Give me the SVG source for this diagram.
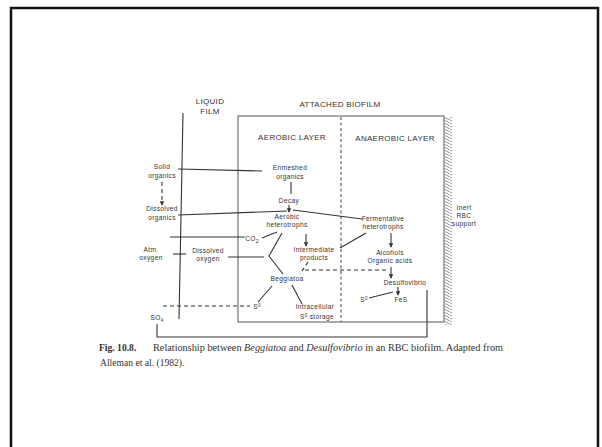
<svg xmlns="http://www.w3.org/2000/svg" width="602" height="447" viewBox="0 0 602 447">
<defs>
<style>
.t{font-family:"Liberation Sans",Arial,sans-serif;font-size:6.6px;fill:#333;text-anchor:middle;letter-spacing:0.35px}
.h{font-family:"Liberation Sans",Arial,sans-serif;font-size:8px;fill:#333;text-anchor:middle;letter-spacing:0.3px}
.c{font-family:"Liberation Serif","Times New Roman",serif;font-size:9.6px;fill:#333}
.l{fill:none;stroke:#333;stroke-width:1.1}
.d{fill:none;stroke:#333;stroke-width:1.1;stroke-dasharray:4 3}
.a{marker-end:url(#ah)}
</style>
<marker id="ah" viewBox="0 0 6 6" refX="5" refY="3" markerWidth="4" markerHeight="4" orient="auto">
<path d="M0,0 L6,3 L0,6 z" fill="#333"/>
</marker>
<pattern id="hatch" width="6" height="3" patternUnits="userSpaceOnUse">
<path d="M0,0 L6,3" stroke="#777" stroke-width="0.8"/>
</pattern>
</defs>
<rect width="602" height="447" fill="#fff"/>
<rect x="11" y="8" width="587" height="460" fill="none" stroke="#111" stroke-width="2.5"/>

<g id="frame-layers">
<line class="l" x1="183" y1="113" x2="179" y2="319"/>
<rect x="238" y="116" width="206" height="206" fill="none" stroke="#555" stroke-width="1"/>
<rect x="445" y="117" width="7" height="208" fill="url(#hatch)"/>
<line x1="341" y1="117" x2="341" y2="322" stroke="#444" stroke-width="1" stroke-dasharray="3 2.5"/>
<text class="h" x="210" y="104">LIQUID</text>
<text class="h" x="210" y="114">FILM</text>
<text class="h" x="340" y="107">ATTACHED BIOFILM</text>
<text class="h" x="292" y="140">AEROBIC LAYER</text>
<text class="h" x="395" y="141">ANAEROBIC LAYER</text>
<text class="t" x="464" y="210">Inert</text>
<text class="t" x="464" y="218">RBC</text>
<text class="t" x="464" y="226">support</text>
</g>

<g id="connectors">
<line class="l" x1="178" y1="169" x2="262" y2="171"/>
<line class="d a" x1="162" y1="182" x2="162" y2="205" stroke-dasharray="2 2"/>
<line class="l" x1="291" y1="182" x2="291" y2="194"/>
<line class="l a" x1="289" y1="205" x2="289" y2="212"/>
<line class="l" x1="178" y1="215" x2="287" y2="211"/>
<line class="l" x1="293" y1="210" x2="362" y2="219"/>
<line class="l" x1="170" y1="237" x2="245" y2="237"/>
<line class="l" x1="262" y1="238" x2="277" y2="232"/>
<line class="l" x1="173" y1="254" x2="186" y2="254"/>
<line class="l" x1="228" y1="257" x2="264" y2="257"/>
<polyline class="l" points="282,233 269,256 283,274"/>
<line class="l a" x1="306" y1="234" x2="306" y2="246"/>
<line class="l" x1="366" y1="233" x2="340" y2="248"/>
<line class="l a" x1="391" y1="233" x2="391" y2="247"/>
<line class="l a" x1="391" y1="267" x2="391" y2="278"/>
<line class="d" x1="305" y1="270" x2="389" y2="270"/>
<line class="d" x1="308" y1="262" x2="300" y2="274" stroke-dasharray="3 2"/>
<line class="l" x1="272" y1="286" x2="258" y2="302"/>
<line class="l" x1="292" y1="285" x2="302" y2="304"/>
<line class="d" x1="163" y1="306" x2="250" y2="306"/>
<line class="l a" x1="398" y1="287" x2="398" y2="295"/>
<line class="l" x1="369" y1="298" x2="393" y2="292"/>
<polyline class="l" points="157,324 157,337 427,337 427,290"/>
</g>

<g id="solid-organics"><text class="t" x="162" y="169">Solid</text><text class="t" x="162" y="178">organics</text></g>
<g id="dissolved-organics"><text class="t" x="162" y="211">Dissolved</text><text class="t" x="162" y="220">organics</text></g>
<g id="enmeshed-organics"><text class="t" x="290" y="170">Enmeshed</text><text class="t" x="290" y="179">organics</text></g>
<g id="decay"><text class="t" x="289" y="203">Decay</text></g>
<g id="aerobic-heterotrophs"><text class="t" x="287" y="219">Aerobic</text><text class="t" x="287" y="227">heterotrophs</text></g>
<g id="fermentative-heterotrophs"><text class="t" x="383" y="221">Fermentative</text><text class="t" x="383" y="229">heterotrophs</text></g>
<g id="co2"><text class="t" x="252" y="241">CO<tspan font-size="5" dy="2">2</tspan></text></g>
<g id="atm-oxygen"><text class="t" x="151" y="252">Atm.</text><text class="t" x="151" y="260">oxygen</text></g>
<g id="dissolved-oxygen"><text class="t" x="208" y="253">Dissolved</text><text class="t" x="208" y="261">oxygen</text></g>
<g id="intermediate-products"><text class="t" x="314" y="252">Intermediate</text><text class="t" x="314" y="260">products</text></g>
<g id="alcohols"><text class="t" x="390" y="255">Alcohols</text><text class="t" x="390" y="263">Organic acids</text></g>
<g id="beggiatoa"><text class="t" x="287" y="281">Beggiatoa</text></g>
<g id="desulfovibrio"><text class="t" x="405" y="285">Desulfovibrio</text></g>
<g id="s0-left"><text class="t" x="257" y="309">S<tspan font-size="4.5" dy="-2.5">0</tspan></text></g>
<g id="s0-right"><text class="t" x="364" y="302">S<tspan font-size="4.5" dy="-2.5">0</tspan></text></g>
<g id="fes"><text class="t" x="401" y="302">FeS</text></g>
<g id="intracellular"><text class="t" x="315" y="309">Intracellular</text><text class="t" x="317" y="319">S<tspan font-size="4.5" dy="-2.5">0</tspan><tspan dy="2.5"> storage</tspan></text></g>
<g id="so4"><text class="t" x="157" y="320">SO<tspan font-size="4.5" dy="2">4</tspan></text></g>

<g id="caption">
<text class="c" x="99" y="351"><tspan font-weight="bold">Fig. 10.8.</tspan></text>
<text class="c" x="153" y="351" textLength="350" lengthAdjust="spacingAndGlyphs">Relationship between <tspan font-style="italic">Beggiatoa</tspan> and <tspan font-style="italic">Desulfovibrio</tspan> in an RBC biofilm. Adapted from</text>
<text class="c" x="100" y="366">Alleman et al. (1982).</text>
</g>
</svg>
